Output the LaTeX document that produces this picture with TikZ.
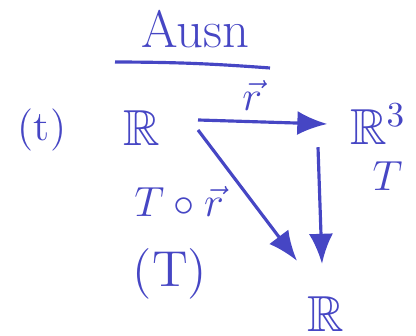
\documentclass[tikz,border=0pt]{standalone}
\usepackage{amssymb}
\usepackage{xcolor}
\usepackage{tikz}
\usetikzlibrary{arrows.meta,positioning,calc}
\definecolor{ink}{HTML}{4646C4}

\begin{document}
\begin{tikzpicture}[
  every node/.style={text=ink, inner sep=2pt},
  sp/.style={font=\Large},
  lbl/.style={font=\large},
  arr/.style={draw=ink, line width=0.9pt, -{Latex[length=3mm,width=2.4mm]}}
]
\useasboundingbox (0,0) rectangle (4.16,3.36);
\node[font=\fontsize{15}{18}\selectfont] (title) at (1.95,3.07) {Ausn};
\draw[ink, line width=0.9pt] (1.15,2.74) to[bend left=2] (2.70,2.68);
\node[font=\large] (t) at (0.42,2.06) {(t)};
\node[sp] (R) at (1.42,2.08) {$\mathbb{R}$};
\node[sp] (R3) at (3.78,2.12) {$\mathbb{R}^3$};
\node[sp] (Rb) at (3.26,0.22) {$\mathbb{R}$};
\node[sp] (T) at (1.70,0.62) {(T)};
\draw[arr] ([xshift=3mm,yshift=0.8mm]R.east) -- node[lbl, above=0.3mm, pos=0.42] {$\vec{r}$} ([xshift=-1.5mm]R3.west);
\draw[arr] ([xshift=-0.8mm,yshift=0.5mm]Rb.north |- R3.south) -- node[lbl, right=4.5mm, pos=0.25] {$T$} ([xshift=-0.4mm,yshift=2.5mm]Rb.north);
\draw[arr] ([xshift=3mm,yshift=-0.2mm]R.east) -- node[lbl, left=2mm, pos=0.55] {$T\circ\vec{r}$} ([xshift=-0.3mm,yshift=2.8mm]Rb.north west);
\end{tikzpicture}
\end{document}
